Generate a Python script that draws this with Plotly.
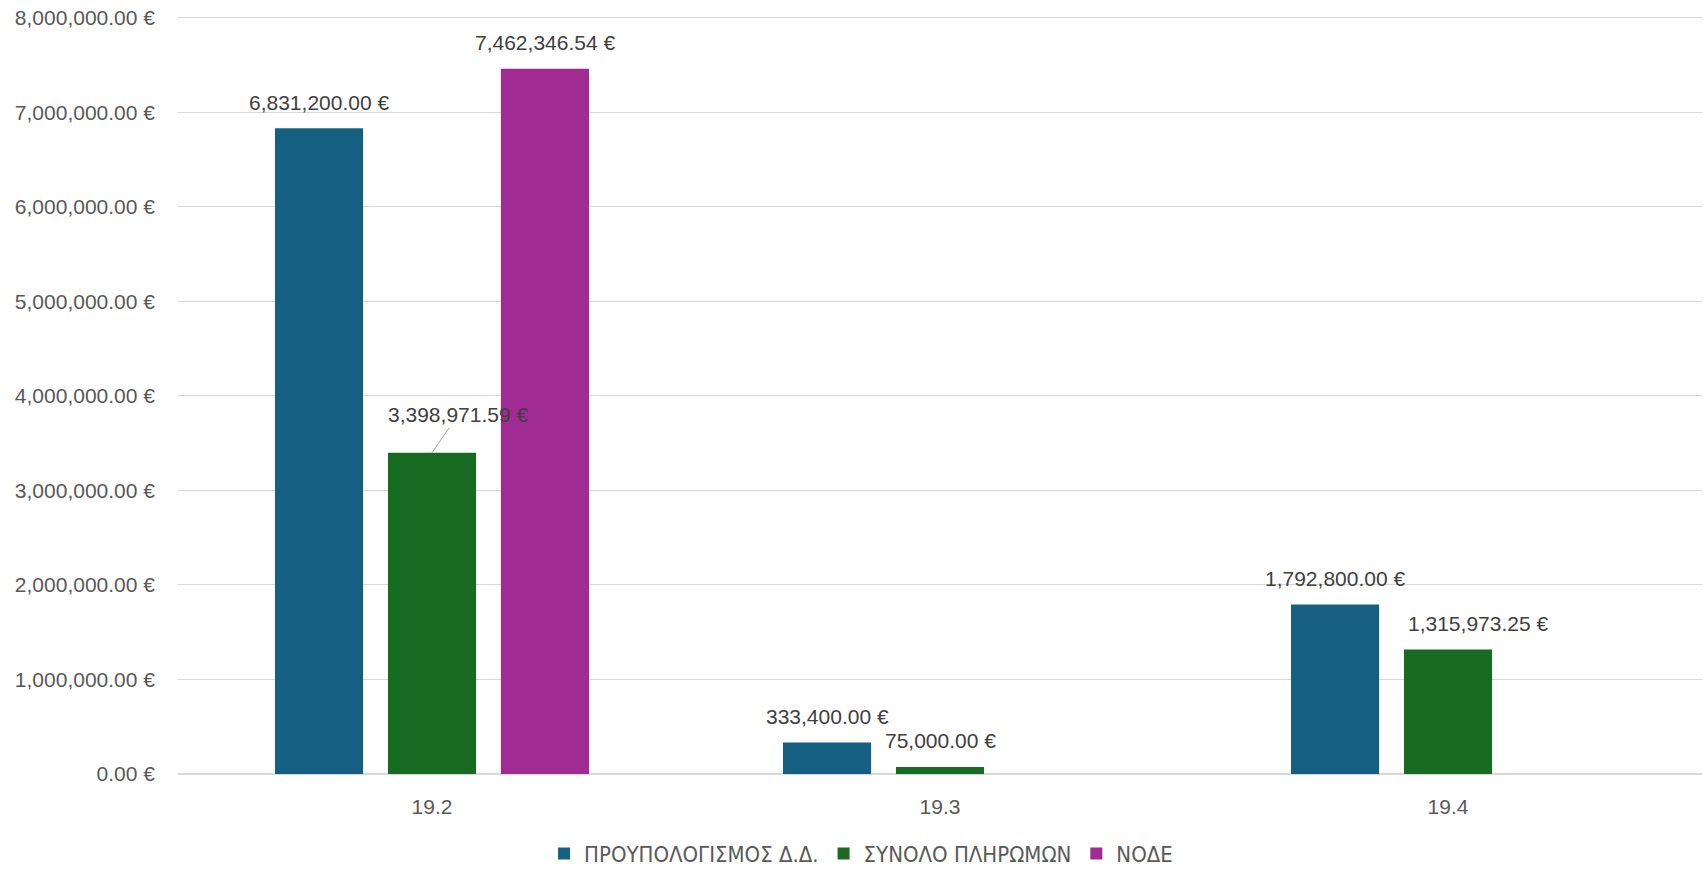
import plotly.graph_objects as go

categories = ["19.2", "19.3", "19.4"]
series_names = ["ΠΡΟΥΠΟΛΟΓΙΣΜΟΣ Δ.Δ.", "ΣΥΝΟΛΟ ΠΛΗΡΩΜΩΝ", "ΝΟΔΕ"]
budget = [6831200.00, 333400.00, 1792800.00]
payments = [3398971.59, 75000.00, 1315973.25]
node = [7462346.54, None, None]
series_values = [budget, payments, node]
colors = ["#156082", "#196B24", "#A02B93"]
y_ticks = [0, 1000000, 2000000, 3000000, 4000000, 5000000, 6000000, 7000000, 8000000]

NUM_FONT = "Liberation Sans, Arial, sans-serif"
LEG_FONT = "Liberation Sans Narrow, DejaVu Sans Condensed, Liberation Sans, sans-serif"


def fmt(v):
    return f"{v:,.2f} €"


fig = go.Figure()
for name, vals, col in zip(series_names, series_values, colors):
    fig.add_trace(go.Bar(
        x=categories, y=vals, name=name, marker=dict(color=col, line=dict(width=0)),
        hoverinfo="skip",
    ))

slot_px = 113
for si, vals in enumerate(series_values):
    for ci, v in enumerate(vals):
        if v is None:
            continue
        xshift = (si - 1) * slot_px
        if si == 1 and ci == 0:
            fig.add_annotation(
                x=ci, y=v, xref="x", yref="y", text=fmt(v),
                showarrow=True, arrowhead=0, arrowwidth=1, arrowcolor="#a6a6a6",
                ax=26, ay=-38, standoff=0, startstandoff=0,
                font=dict(family=NUM_FONT, size=21, color="#404040"),
            )
            continue
        if si == 1 and ci == 2:
            xshift += 30
        fig.add_annotation(
            x=ci, y=v, xref="x", yref="y", text=fmt(v),
            showarrow=False, xshift=xshift, yshift=26, yanchor="middle",
            font=dict(family=NUM_FONT, size=21, color="#404040"),
        )

fig.update_layout(
    width=1706, height=870,
    paper_bgcolor="white", plot_bgcolor="white",
    margin=dict(l=178, r=4, t=16, b=96, autoexpand=False),
    barmode="group", bargap=0.333, bargroupgap=0.22,
    showlegend=True,
    legend=dict(
        orientation="h", xref="paper", yref="paper",
        x=0.4482, xanchor="center", y=-0.105, yanchor="middle",
        font=dict(family=LEG_FONT, size=22, color="#595959"),
        itemclick=False, itemdoubleclick=False,
    ),
    font=dict(family=NUM_FONT, size=21, color="#595959"),
)
fig.update_xaxes(
    type="category", range=[-0.5, 2.5], showgrid=False, showline=False, ticks="",
    ticklabelstandoff=18,
    tickfont=dict(family=NUM_FONT, size=21, color="#595959"),
)
fig.update_yaxes(
    range=[0, 8020000], tickvals=y_ticks, ticktext=[fmt(v) for v in y_ticks],
    showgrid=True, gridcolor="#d9d9d9", gridwidth=1,
    zeroline=True, zerolinecolor="#d9d9d9", zerolinewidth=1.5,
    showline=False, ticks="", ticklabelstandoff=22,
    tickfont=dict(family=NUM_FONT, size=21, color="#595959"),
)

fig.write_html(
    "out.html",
    config={"displayModeBar": False},
    post_script="document.body.style.margin='0';document.body.style.overflow='hidden';",
)
